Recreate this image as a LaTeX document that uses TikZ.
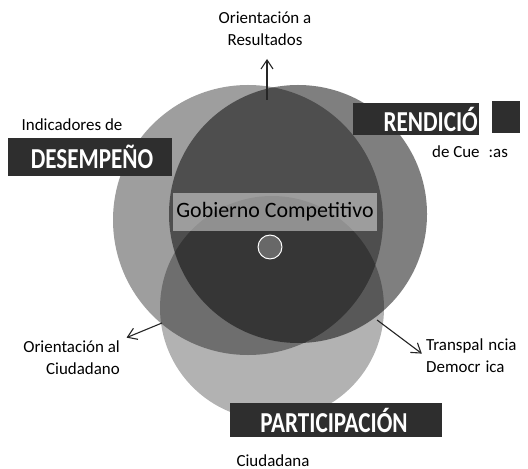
\documentclass[tikz,border=0pt]{standalone}
\usepackage{fontspec}
\setmainfont{Carlito}
\usetikzlibrary{arrows.meta}

\newcommand{\boxlabel}[1]{\scalebox{0.8}[1]{\fontsize{29}{29}\selectfont\bfseries #1}}

\begin{document}
\begin{tikzpicture}[x=1bp, y=-1bp,
    lbl/.style={font=\fontsize{17}{22}\selectfont, inner sep=1pt},
    darkbox/.style={fill=black!82, inner sep=0pt},
    boxtxt/.style={text=white, inner sep=0pt},
    arr/.style={-{Straight Barb[length=9pt, width=12pt]}, line width=1.1pt, black!85}]
    % white background
    \fill [white] (0,0) rectangle (528,469);

    % draw circles
    \fill[black, opacity=0.38] (248,220) circle (135bp);
    \fill[black, opacity=0.5] (298,214) circle (129bp);
    \fill[black, opacity=0.3] (272,308) circle (112bp);

    % centre band and small circle
    \node[fill=white, fill opacity=0.45, text opacity=1, minimum width=204, minimum height=38,
        font=\fontsize{22}{22}\selectfont] (centro) at (275,212) {Gobierno Competitivo};
    \node[circle, draw=white, line width=1pt, fill=white, fill opacity=0.25, minimum size=24] (nucleo) at (270,247) {};

    % dark boxes
    \node[darkbox, minimum width=165, minimum height=39] (desbox) at (90,157) {};
    \node[boxtxt] (desempeno) at (92,157) {\boxlabel{DESEMPEÑO}};
    \node[darkbox, minimum width=127, minimum height=32] (rendbox) at (416,119) {};
    \node[boxtxt, anchor=east] (rendicion) at (478,119) {\boxlabel{RENDICIÓ}};
    \node[darkbox, minimum width=28, minimum height=33] (rendresto) at (506,117) {};
    \node[darkbox, minimum width=213, minimum height=34] (partbox) at (336,420) {};
    \node[boxtxt] (participacion) at (334,420) {\boxlabel{PARTICIPACIÓN}};

    % add labels
    \node[lbl, align=center] (resultados) at (265,29) {Orientación a\\Resultados};
    \node[lbl] (indicadores) at (72,125) {Indicadores de};
    \node[lbl] (cuentas) at (470,152) {de Cue\hspace{9pt}:as};
    \node[lbl, align=right, anchor=east] (ciudadano) at (121,358) {Orientación al\\Ciudadano};
    \node[lbl, align=left, anchor=west] (transparencia) at (425,356) {Transpal\hspace{5pt}ncia\\Democr\hspace{5pt}ica};
    \node[lbl, anchor=base] (ciudadana) at (273,466) {Ciudadana};

    % draw arrows
    \coordinate (sup) at (267,100);
    \coordinate (izq) at (162,323);
    \coordinate (der) at (377,320);
    \draw[arr, shorten >=12pt] (sup) -- (resultados.south -| sup);
    \draw[arr, shorten >=6pt] (izq) -- (ciudadano.north east);
    \draw[arr, shorten >=4pt] (der) -- (transparencia.west);

\end{tikzpicture}
\end{document}
